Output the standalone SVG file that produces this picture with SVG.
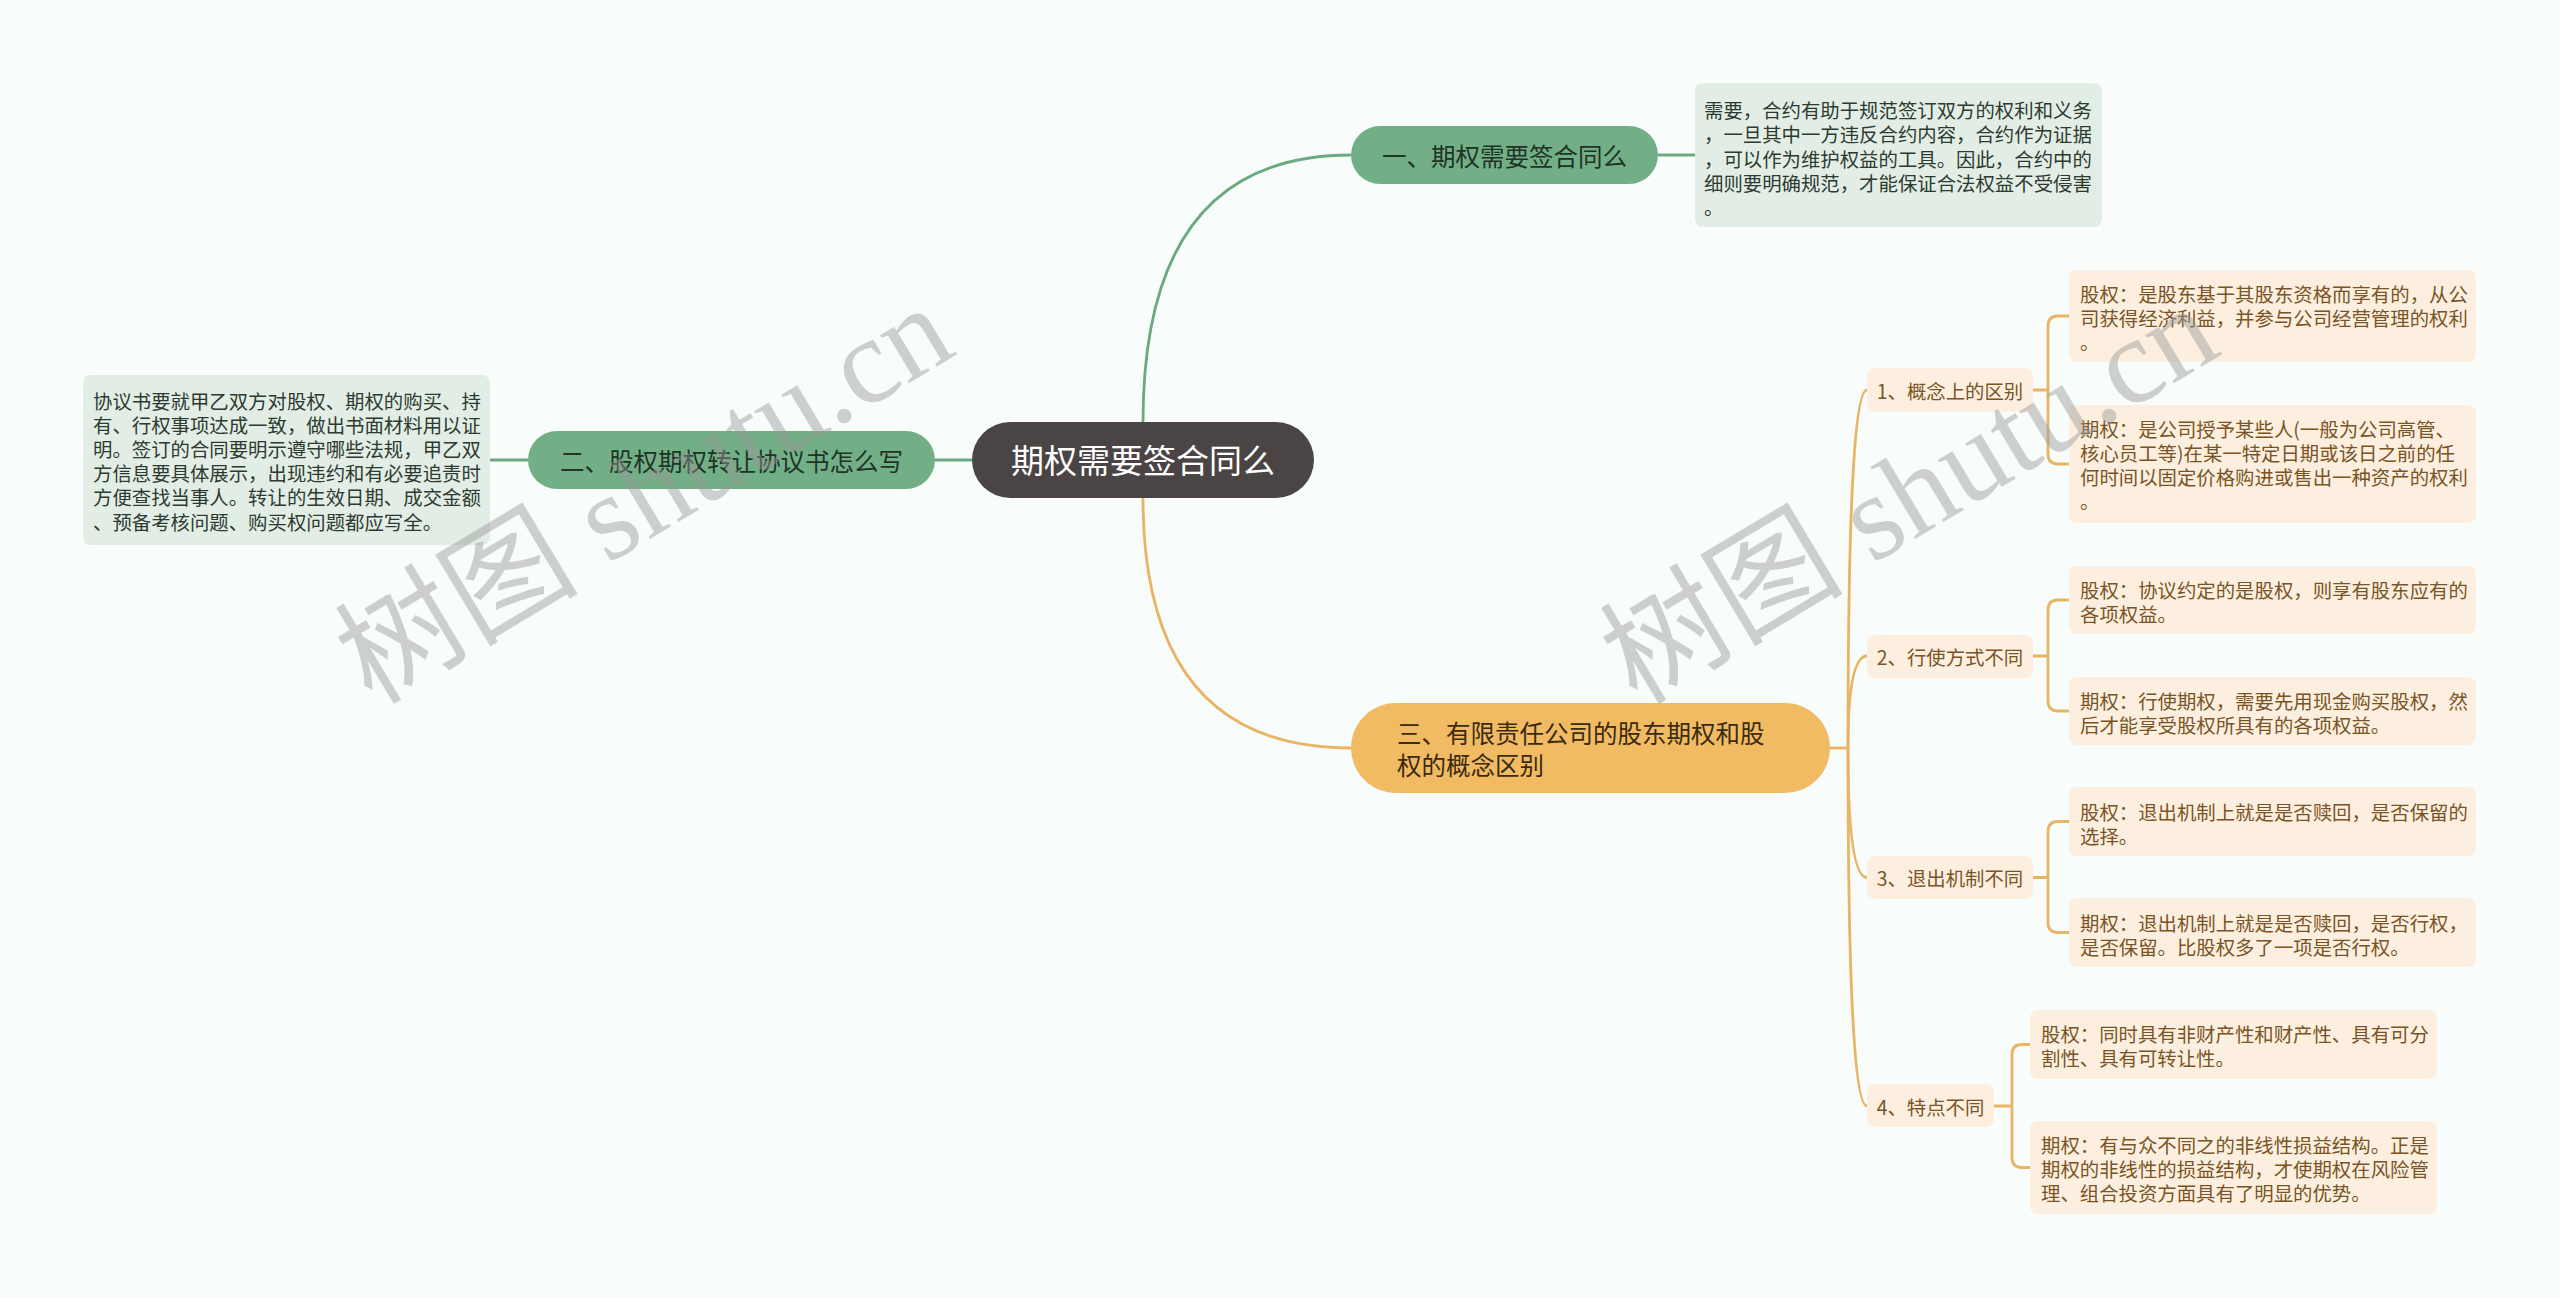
<svg xmlns="http://www.w3.org/2000/svg" width="2560" height="1298" viewBox="0 0 2560 1298">
<style>
text{font-family:"Noto Sans CJK SC","Noto Sans",sans-serif;dominant-baseline:central}
.gline{fill:none;stroke:#6aaa80;stroke-width:2.8}
.oline{fill:none;stroke:#e9b465;stroke-width:2.8}
.center{fill:#4a4544}
.gnode{fill:#72af86}
.onode{fill:#f0bb63}
.gdesc{fill:#e2eee5}
.leaf{fill:#fcefe0}
.tc{fill:#ffffff;font-size:33px;text-anchor:middle}
.tg{fill:#1f3326;font-size:24.5px}
.to{fill:#3b2a10;font-size:24.5px}
.td{fill:#2d3a30;font-size:19.4px}
.tl{fill:#7a5424;font-size:19.4px}
.wm{font-family:"Liberation Serif","Noto Sans CJK SC",serif;font-size:122px;fill:#999999;opacity:0.45;dominant-baseline:auto}
</style>
<rect width="2560" height="1298" fill="#f8fcfb"/>
<g id="connectors">
<path class="gline" d="M1143 422 Q1143 155 1351 155"/>
<path class="gline" d="M972 460 H935"/>
<path class="gline" d="M1658 155 H1695"/>
<path class="gline" d="M528 460 H490"/>
<path class="oline" d="M1143 498 Q1143 748 1351 748"/>
<path class="oline" d="M1830 748 H1848"/>
<path class="oline" d="M1848 748 Q1848 390 1867 390"/>
<path class="oline" d="M1848 748 Q1848 656 1867 656"/>
<path class="oline" d="M1848 748 Q1848 877.5 1867 877.5"/>
<path class="oline" d="M1848 748 Q1848 1106 1867 1106"/>
<path class="oline" d="M2033 390 H2048 M2069 316 H2058 Q2048 316 2048 326 V454 Q2048 464 2058 464 H2069"/>
<path class="oline" d="M2033 656 H2048 M2069 600 H2058 Q2048 600 2048 610 V701 Q2048 711 2058 711 H2069"/>
<path class="oline" d="M2033 877.5 H2048 M2069 821.5 H2058 Q2048 821.5 2048 831.5 V922.5 Q2048 932.5 2058 932.5 H2069"/>
<path class="oline" d="M1994 1106 H2012 M2030 1044.5 H2022 Q2012 1044.5 2012 1054.5 V1157.5 Q2012 1167.5 2022 1167.5 H2030"/>
</g>
<g id="root">
<rect class="center" x="972" y="422" width="342" height="76" rx="38"/>
<text class="tc" x="1143" y="459">期权需要签合同么</text>
</g>
<g id="n1">
<rect class="gnode" x="1351" y="126" width="307" height="58" rx="29"/>
<text class="tg" x="1504.5" y="155" text-anchor="middle">一、期权需要签合同么</text>
</g>
<g id="n1-desc">
<rect class="gdesc" x="1695" y="83" width="407" height="144" rx="8"/>
<text class="td"><tspan x="1704" y="109">需要，合约有助于规范签订双方的权利和义务</tspan><tspan x="1704" y="133.3">，一旦其中一方违反合约内容，合约作为证据</tspan><tspan x="1704" y="157.6">，可以作为维护权益的工具。因此，合约中的</tspan><tspan x="1704" y="181.9">细则要明确规范，才能保证合法权益不受侵害</tspan><tspan x="1704" y="206.2">。</tspan></text>
</g>
<g id="n2">
<rect class="gnode" x="528" y="431" width="407" height="58" rx="29"/>
<text class="tg" x="731.5" y="460" text-anchor="middle">二、股权期权转让协议书怎么写</text>
</g>
<g id="n2-desc">
<rect class="gdesc" x="83" y="375" width="407" height="170" rx="8"/>
<text class="td"><tspan x="93" y="399.5">协议书要就甲乙双方对股权、期权的购买、持</tspan><tspan x="93" y="423.7">有、行权事项达成一致，做出书面材料用以证</tspan><tspan x="93" y="447.9">明。签订的合同要明示遵守哪些法规，甲乙双</tspan><tspan x="93" y="472.1">方信息要具体展示，出现违约和有必要追责时</tspan><tspan x="93" y="496.3">方便查找当事人。转让的生效日期、成交金额</tspan><tspan x="93" y="520.5">、预备考核问题、购买权问题都应写全。</tspan></text>
</g>
<g id="n3">
<rect class="onode" x="1351" y="703" width="479" height="90" rx="45"/>
<text class="to"><tspan x="1397" y="732">三、有限责任公司的股东期权和股</tspan><tspan x="1397" y="764">权的概念区别</tspan></text>
</g>
<g id="s1">
<rect class="leaf" x="1867" y="368" width="166" height="44" rx="8"/>
<text class="tl" x="1950" y="390" text-anchor="middle">1、概念上的区别</text>
</g>
<g id="s1a">
<rect class="leaf" x="2069" y="270" width="407" height="92" rx="8"/>
<text class="tl"><tspan x="2080" y="293">股权：是股东基于其股东资格而享有的，从公</tspan><tspan x="2080" y="317">司获得经济利益，并参与公司经营管理的权利</tspan><tspan x="2080" y="341">。</tspan></text>
</g>
<g id="s1b">
<rect class="leaf" x="2069" y="405" width="407" height="118" rx="8"/>
<text class="tl"><tspan x="2080" y="428">期权：是公司授予某些人(一般为公司高管、</tspan><tspan x="2080" y="452">核心员工等)在某一特定日期或该日之前的任</tspan><tspan x="2080" y="476">何时间以固定价格购进或售出一种资产的权利</tspan><tspan x="2080" y="500">。</tspan></text>
</g>
<g id="s2">
<rect class="leaf" x="1867" y="635" width="166" height="43" rx="8"/>
<text class="tl" x="1950" y="656" text-anchor="middle">2、行使方式不同</text>
</g>
<g id="s2a">
<rect class="leaf" x="2069" y="566" width="407" height="68" rx="8"/>
<text class="tl"><tspan x="2080" y="589">股权：协议约定的是股权，则享有股东应有的</tspan><tspan x="2080" y="613">各项权益。</tspan></text>
</g>
<g id="s2b">
<rect class="leaf" x="2069" y="677" width="407" height="68" rx="8"/>
<text class="tl"><tspan x="2080" y="700">期权：行使期权，需要先用现金购买股权，然</tspan><tspan x="2080" y="724">后才能享受股权所具有的各项权益。</tspan></text>
</g>
<g id="s3">
<rect class="leaf" x="1867" y="856" width="166" height="43" rx="8"/>
<text class="tl" x="1950" y="877.5" text-anchor="middle">3、退出机制不同</text>
</g>
<g id="s3a">
<rect class="leaf" x="2069" y="787" width="407" height="69" rx="8"/>
<text class="tl"><tspan x="2080" y="811">股权：退出机制上就是是否赎回，是否保留的</tspan><tspan x="2080" y="835">选择。</tspan></text>
</g>
<g id="s3b">
<rect class="leaf" x="2069" y="898" width="407" height="69" rx="8"/>
<text class="tl"><tspan x="2080" y="922">期权：退出机制上就是是否赎回，是否行权，</tspan><tspan x="2080" y="946">是否保留。比股权多了一项是否行权。</tspan></text>
</g>
<g id="s4">
<rect class="leaf" x="1867" y="1084" width="127" height="43" rx="8"/>
<text class="tl" x="1930.5" y="1106" text-anchor="middle">4、特点不同</text>
</g>
<g id="s4a">
<rect class="leaf" x="2030" y="1010" width="407" height="69" rx="8"/>
<text class="tl"><tspan x="2041" y="1033">股权：同时具有非财产性和财产性、具有可分</tspan><tspan x="2041" y="1057">割性、具有可转让性。</tspan></text>
</g>
<g id="s4b">
<rect class="leaf" x="2030" y="1121" width="407" height="93" rx="8"/>
<text class="tl"><tspan x="2041" y="1144">期权：有与众不同之的非线性损益结构。正是</tspan><tspan x="2041" y="1168">期权的非线性的损益结构，才使期权在风险管</tspan><tspan x="2041" y="1192">理、组合投资方面具有了明显的优势。</tspan></text>
</g>
<g id="watermarks">
<text class="wm" transform="translate(372 706) rotate(-31)">树图 shutu.cn</text>
<text class="wm" transform="translate(1637 706) rotate(-31)">树图 shutu.cn</text>
</g>
</svg>
